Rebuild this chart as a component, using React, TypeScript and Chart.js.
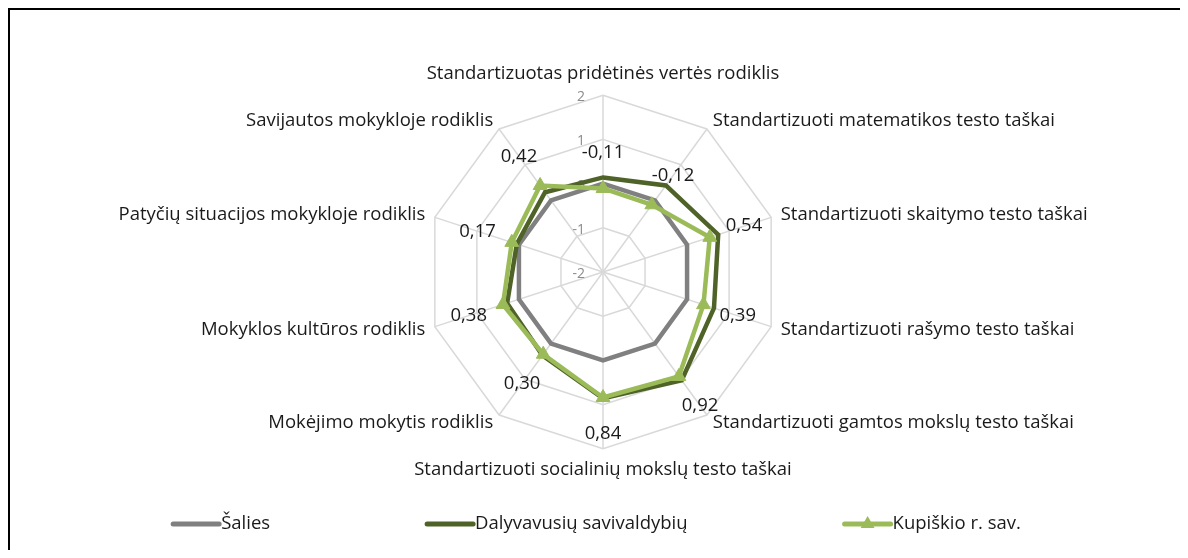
import React, { useEffect, useRef } from "react";
import { Chart, registerables } from "chart.js";

Chart.register(...registerables);

const categories = [
  "Standartizuotas pridėtinės vertės rodiklis",
  "Standartizuoti matematikos testo taškai",
  "Standartizuoti skaitymo testo taškai",
  "Standartizuoti rašymo testo taškai",
  "Standartizuoti gamtos mokslų testo taškai",
  "Standartizuoti socialinių mokslų testo taškai",
  "Mokėjimo mokytis rodiklis",
  "Mokyklos kultūros rodiklis",
  "Patyčių situacijos mokykloje rodiklis",
  "Savijautos mokykloje rodiklis",
];

const seriesNames = ["Šalies", "Dalyvavusių savivaldybių", "Kupiškio r. sav."];
const saliesValues = [0, 0, 0, 0, 0, 0, 0, 0, 0, 0];
const dalyvavusiuValues = [0.14, 0.42, 0.74, 0.64, 1.03, 0.86, 0.33, 0.28, 0.05, 0.23];
const kupiskioValues = [-0.11, -0.12, 0.54, 0.39, 0.92, 0.84, 0.3, 0.38, 0.17, 0.42];
const kupiskioLabels = ["-0,11", "-0,12", "0,54", "0,39", "0,92", "0,84", "0,30", "0,38", "0,17", "0,42"];

const scaleMin = -2;
const scaleMax = 2;
const scaleStep = 1;

const FONT = '"Open Sans", "Noto Sans", sans-serif';

const tickPlugin = {
  id: "leftTicks",
  beforeDatasetsDraw(chart: any) {
    const s = chart.scales.r;
    const ctx = chart.ctx;
    ctx.save();
    ctx.font = `14px ${FONT}`;
    ctx.fillStyle = "#8c8c8c";
    ctx.textAlign = "right";
    ctx.textBaseline = "middle";
    s.ticks.forEach((t: any) => {
      const d = s.getDistanceFromCenterForValue(t.value);
      ctx.fillText(String(t.value), s.xCenter - 18, s.yCenter - d + 2);
    });
    ctx.restore();
  },
};

const valueLabelPlugin = {
  id: "valueLabels",
  afterDatasetsDraw(chart: any) {
    const s = chart.scales.r;
    const ctx = chart.ctx;
    const meta = chart.getDatasetMeta(2);
    ctx.save();
    ctx.font = `18.5px ${FONT}`;
    ctx.fillStyle = "#1a1a1a";
    ctx.textAlign = "center";
    ctx.textBaseline = "middle";
    meta.data.forEach((pt: any, i: number) => {
      const dx = pt.x - s.xCenter;
      const dy = pt.y - s.yCenter;
      const len = Math.sqrt(dx * dx + dy * dy) || 1;
      const off = 36;
      ctx.fillText(kupiskioLabels[i], pt.x + (dx / len) * off, pt.y + (dy / len) * off);
    });
    ctx.restore();
  },
};

const legendPlugin = {
  id: "spreadLegend",
  afterDraw(chart: any) {
    const ctx = chart.ctx;
    const ds = chart.data.datasets;
    ctx.save();
    ctx.font = `18.5px ${FONT}`;
    const lineW = 50;
    const gap = 155;
    const widths = ds.map((d: any) => lineW + ctx.measureText(d.label).width);
    const total = widths.reduce((a: number, b: number) => a + b, 0) + gap * (ds.length - 1);
    let x = 586 - total / 2;
    const y = 514;
    ds.forEach((d: any, i: number) => {
      ctx.strokeStyle = d.borderColor;
      ctx.lineWidth = 5;
      ctx.lineCap = "round";
      ctx.beginPath();
      ctx.moveTo(x + 2, y);
      ctx.lineTo(x + lineW - 2, y);
      ctx.stroke();
      if (d.pointRadius > 0) {
        const cx = x + lineW / 2;
        const r = 8;
        ctx.fillStyle = d.pointBackgroundColor;
        ctx.beginPath();
        ctx.moveTo(cx, y - r);
        ctx.lineTo(cx + r * 0.866, y + r / 2);
        ctx.lineTo(cx - r * 0.866, y + r / 2);
        ctx.closePath();
        ctx.fill();
      }
      ctx.fillStyle = "#1a1a1a";
      ctx.textAlign = "left";
      ctx.textBaseline = "middle";
      ctx.fillText(d.label, x + lineW, y);
      x += widths[i] + gap;
    });
    ctx.restore();
  },
};

function centerSideLabels(scale: any) {
  const items = scale._pointLabelItems;
  if (!items) return;
  const n = items.length;
  items.forEach((item: any, i: number) => {
    const angle = Math.round((i * 360) / n) % 360;
    if (angle === 0 || angle === 180 || angle === 90 || angle === 270) return;
    const h = item.bottom - item.top;
    const shift = angle < 90 || angle > 270 ? h / 2 : -h / 2;
    item.y += shift;
    item.top += shift;
    item.bottom += shift;
  });
}

export default function App() {
  const ref = useRef<HTMLCanvasElement | null>(null);

  useEffect(() => {
    if (!ref.current) return;
    const chart = new Chart(ref.current, {
      type: "radar",
      data: {
        labels: categories,
        datasets: [
          {
            label: seriesNames[0],
            data: saliesValues,
            borderColor: "#808080",
            backgroundColor: "transparent",
            borderWidth: 4.5,
            pointRadius: 0,
            fill: false,
            order: 3,
          },
          {
            label: seriesNames[1],
            data: dalyvavusiuValues,
            borderColor: "#4f6228",
            backgroundColor: "transparent",
            borderWidth: 4.5,
            pointRadius: 0,
            fill: false,
            order: 2,
          },
          {
            label: seriesNames[2],
            data: kupiskioValues,
            borderColor: "#9bbb59",
            backgroundColor: "transparent",
            borderWidth: 4.5,
            pointStyle: "triangle",
            pointRadius: 8,
            pointBackgroundColor: "#9bbb59",
            pointBorderColor: "#9bbb59",
            pointBorderWidth: 1,
            fill: false,
            order: 1,
          },
        ] as any,
      },
      options: {
        animation: false,
        responsive: false,
        layout: { padding: { left: 8, right: 0, top: 53, bottom: 69 } },
        plugins: {
          legend: { display: false },
          tooltip: { enabled: false },
        },
        elements: { line: { tension: 0 } },
        scales: {
          r: {
            min: scaleMin,
            max: scaleMax,
            afterFit: centerSideLabels,
            ticks: { stepSize: scaleStep, display: false },
            grid: { color: "#d9d9d9", lineWidth: 1.5 },
            angleLines: { color: "#d9d9d9", lineWidth: 1.5 },
            pointLabels: {
              color: "#1a1a1a",
              font: { size: 18.5, family: FONT },
              padding: 10,
            },
          },
        },
      } as any,
      plugins: [tickPlugin, valueLabelPlugin, legendPlugin],
    });
    return () => chart.destroy();
  }, []);

  return (
    <div
      style={{
        width: 1178,
        height: 540,
        borderTop: "2px solid #000",
        borderLeft: "2px solid #000",
        background: "#fff",
      }}
    >
      <canvas ref={ref} width={1178} height={540} style={{ display: "block" }} />
    </div>
  );
}
